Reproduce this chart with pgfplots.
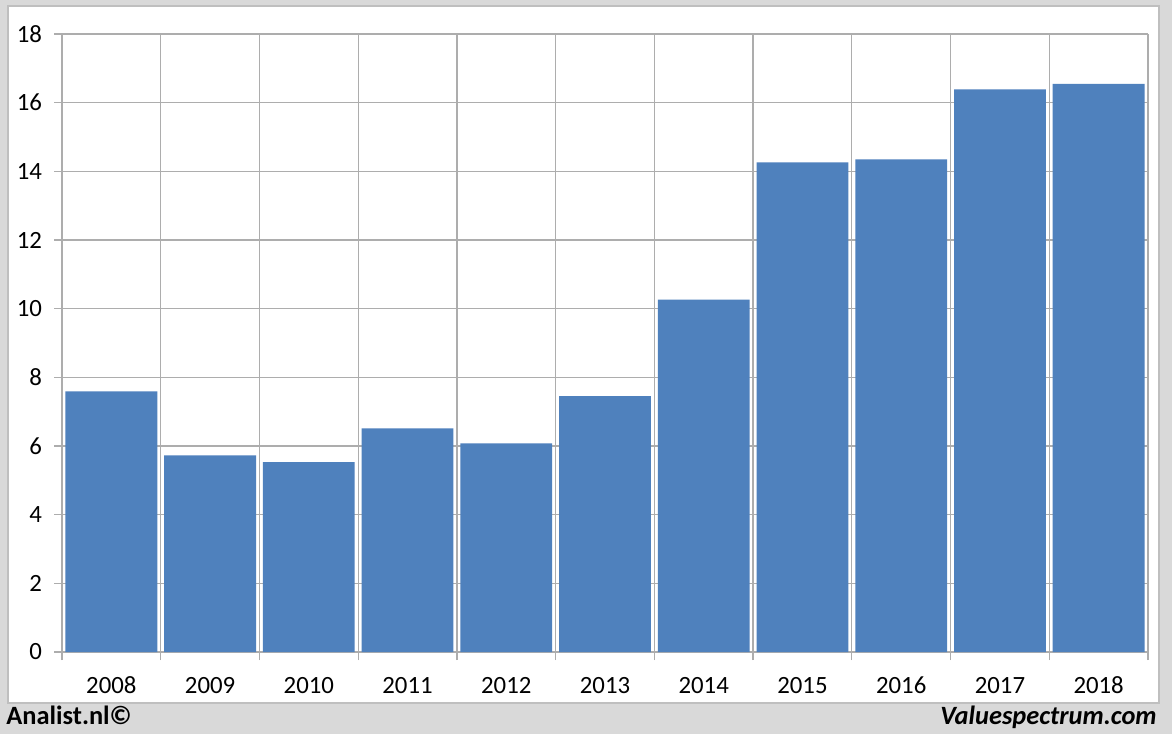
\documentclass[border=0pt]{standalone}
\usepackage{pgfplots}
\pgfplotsset{compat=1.18}
\usepackage{fontspec}
\setmainfont{Carlito}
\definecolor{barblue}{HTML}{4F81BD}
\definecolor{bg}{HTML}{D9D9D9}
\definecolor{gridc}{HTML}{ADADAD}
\definecolor{panelc}{HTML}{BFBFBF}
\begin{document}
\begin{tikzpicture}[x=1pt,y=1pt]
\useasboundingbox (0,0) rectangle (586,367);
\fill[bg] (0,0) rectangle (586,367);
\filldraw[fill=white, draw=panelc, line width=0.8pt] (4,15.5) rectangle (579.5,364);
\begin{axis}[
  at={(31pt,41pt)}, anchor=south west,
  scale only axis, width=543pt, height=309pt,
  xmin=-0.5, xmax=10.5, ymin=0, ymax=18,
  axis lines*=left,
  axis line style={gridc, line width=0.6pt},
  ytick={0,2,...,18},
  xtick={0,...,10},
  xticklabels={2008,2009,2010,2011,2012,2013,2014,2015,2016,2017,2018},
  minor xtick={-0.5,0.5,...,10.5},
  xminorgrids, ymajorgrids,
  grid style={gridc, line width=0.6pt},
  minor grid style={gridc, line width=0.6pt},
  tick align=outside,
  major x tick style={draw=none},
  tick style={gridc, line width=0.6pt},
  major tick length=4pt, minor tick length=4pt,
  ticklabel style={font=\fontsize{12.4}{14}\selectfont, text=black},
  /pgf/number format/assume math mode=true,
  yticklabel style={xshift=-2.5pt},
  xticklabel style={yshift=-4.5pt, text height=8.5pt, text depth=0pt},
  clip=false,
]
\addplot[ybar, bar width=0.93, fill=barblue, draw=none] coordinates {
(0,7.59) (1,5.73) (2,5.53) (3,6.51) (4,6.08) (5,7.45)
(6,10.26) (7,14.26) (8,14.35) (9,16.39) (10,16.55)};
\end{axis}
\node[anchor=base west, font=\bfseries\fontsize{13.2}{15}\selectfont, inner sep=0] at (3,5) {Analist.nl©};
\node[anchor=base east, font=\bfseries\itshape\fontsize{13.2}{15}\selectfont, inner sep=0] at (578.5,5) {Valuespectrum.com};
\end{tikzpicture}
\end{document}
